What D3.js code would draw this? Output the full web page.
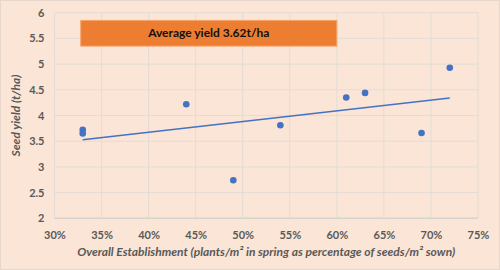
<!DOCTYPE html>
<html>
<head>
<meta charset="utf-8">
<script src="https://cdn.jsdelivr.net/npm/d3@7"></script>
<style>
  body { margin: 0; background: #fff; }
  svg { display: block; font-family: Lato, "Open Sans", sans-serif; }
</style>
</head>
<body>
<svg id="chart" width="500" height="270"></svg>
<script>
// establishment (%) and seed yield (t/ha) per site
var establishment = [33, 33, 44, 49, 54, 61, 63, 69, 72];
var seedYield = [3.72, 3.65, 4.22, 2.74, 3.81, 4.35, 4.44, 3.66, 4.93];
var xTicks = [30, 35, 40, 45, 50, 55, 60, 65, 70, 75];
var yTicks = [2, 2.5, 3, 3.5, 4, 4.5, 5, 5.5, 6];
var bannerText = "Average yield 3.62t/ha";
var bannerRange = { x0: 33, x1: 60, y0: 5.85, y1: 5.35 };

var svg = d3.select("#chart");
var width = 500, height = 270;
var margin = { left: 54.5, right: 22, top: 12.7, bottom: 51.7 };

// outer chart area
svg.append("rect")
  .attr("x", 0.5).attr("y", 0.5)
  .attr("width", width - 1).attr("height", height - 1)
  .attr("fill", "#fbe5d6")
  .attr("stroke", "#e6d6cb");

var x = d3.scaleLinear().domain([30, 75]).range([margin.left, width - margin.right]);
var y = d3.scaleLinear().domain([2, 6]).range([height - margin.bottom, margin.top]);

// gridlines
var grid = svg.append("g").attr("stroke", "#e3dcd6").attr("stroke-width", 1);
grid.selectAll("line.v").data(xTicks).enter().append("line")
  .attr("x1", d => x(d)).attr("x2", d => x(d))
  .attr("y1", y(2)).attr("y2", y(6));
grid.selectAll("line.h").data(yTicks).enter().append("line")
  .attr("y1", d => y(d)).attr("y2", d => y(d))
  .attr("x1", x(30)).attr("x2", x(75));

// axis lines (darker base)
svg.append("line").attr("x1", x(30)).attr("x2", x(75)).attr("y1", y(2)).attr("y2", y(2))
  .attr("stroke", "#d9d3cf").attr("stroke-width", 1.5);

// tick labels
var xAxis = svg.append("g")
  .attr("transform", "translate(0," + y(2) + ")")
  .call(d3.axisBottom(x).tickValues(xTicks).tickFormat(d => d + "%").tickSize(0).tickPadding(13));
var yAxis = svg.append("g")
  .attr("transform", "translate(" + x(30) + ",0)")
  .call(d3.axisLeft(y).tickValues(yTicks).tickFormat(d3.format("")).tickSize(0).tickPadding(10));
[xAxis, yAxis].forEach(function (a) {
  a.select(".domain").remove();
  a.selectAll("text")
    .attr("fill", "#595959")
    .attr("font-family", "Lato, sans-serif")
    .attr("font-size", 11)
    .attr("font-weight", "bold");
});

// banner
svg.append("rect")
  .attr("x", x(bannerRange.x0) - 2).attr("y", y(bannerRange.y0))
  .attr("width", x(bannerRange.x1) - x(bannerRange.x0) + 2)
  .attr("height", y(bannerRange.y1) - y(bannerRange.y0))
  .attr("fill", "#ed7d31")
  .attr("stroke", "#f4a46c");
svg.append("text")
  .attr("x", (x(bannerRange.x0) - 2 + x(bannerRange.x1)) / 2)
  .attr("y", (y(bannerRange.y0) + y(bannerRange.y1)) / 2 + 4)
  .attr("text-anchor", "middle")
  .attr("font-size", 12)
  .attr("font-weight", "bold")
  .attr("fill", "#111")
  .text(bannerText);

// linear trendline from the points
var n = establishment.length;
var mx = d3.mean(establishment), my = d3.mean(seedYield);
var sxy = 0, sxx = 0;
for (var i = 0; i < n; i++) {
  sxy += (establishment[i] - mx) * (seedYield[i] - my);
  sxx += (establishment[i] - mx) * (establishment[i] - mx);
}
var slope = sxy / sxx, intercept = my - slope * mx;
var xMin = d3.min(establishment), xMax = d3.max(establishment);
svg.append("line")
  .attr("x1", x(xMin)).attr("y1", y(intercept + slope * xMin))
  .attr("x2", x(xMax)).attr("y2", y(intercept + slope * xMax))
  .attr("stroke", "#4472c4").attr("stroke-width", 1.5);

// points
svg.append("g").selectAll("circle")
  .data(establishment).enter().append("circle")
  .attr("cx", d => x(d))
  .attr("cy", (d, i) => y(seedYield[i]))
  .attr("r", 3.3)
  .attr("fill", "#4472c4");

// axis titles
svg.append("text")
  .attr("x", (x(30) + x(75)) / 2).attr("y", 256)
  .attr("text-anchor", "middle")
  .attr("font-size", 12).attr("font-style", "italic").attr("font-weight", "bold")
  .attr("fill", "#595959")
  .text("Overall Establishment (plants/m² in spring as percentage of seeds/m² sown)");
svg.append("text")
  .attr("transform", "translate(20," + (y(2) + y(6)) / 2 + ") rotate(-90)")
  .attr("text-anchor", "middle")
  .attr("font-size", 12).attr("font-style", "italic").attr("font-weight", "bold")
  .attr("fill", "#595959")
  .text("Seed yield (t/ha)");
</script>
</body>
</html>
